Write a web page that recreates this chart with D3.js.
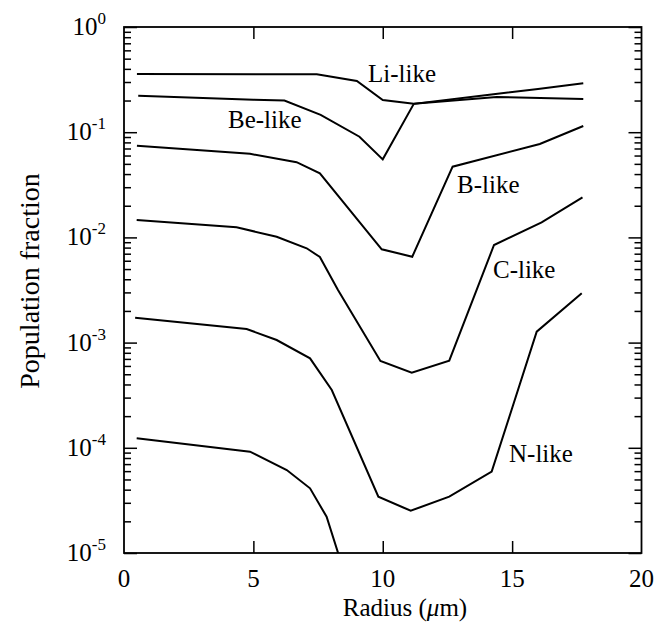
<!DOCTYPE html>
<html>
<head>
<meta charset="utf-8">
<script src="https://cdn.jsdelivr.net/npm/d3@7"></script>
<style>
body { margin: 0; background: #fff; }
text { font-family: "Liberation Serif", "Times New Roman", serif; fill: #000; }
</style>
</head>
<body>
<svg id="viz" width="663" height="629"></svg>
<script>
// radius (um) and population fraction
var liR = [0.5, 7.45, 9.0, 10.0, 11.2, 14.4, 17.75],
	liF = [0.357, 0.355, 0.307, 0.202, 0.186, 0.216, 0.207];
var beR = [0.55, 5.0, 6.2, 7.6, 9.1, 10.0, 11.2, 14.2, 16.0, 17.75],
	beF = [0.222, 0.204, 0.200, 0.146, 0.0906, 0.0552, 0.186, 0.228, 0.258, 0.292];
var bR = [0.5, 4.87, 6.67, 7.57, 9.96, 11.14, 12.7, 16.07, 17.75],
	bF = [0.0744, 0.0623, 0.0519, 0.0407, 0.00771, 0.00655, 0.047, 0.0773, 0.1146];
var cR = [0.49, 4.35, 5.9, 7.06, 7.57, 8.27, 9.91, 11.12, 12.57, 14.3, 16.14, 17.72],
	cF = [0.01464, 0.01247, 0.01015, 0.00788, 0.00651, 0.00316, 0.000668, 0.000517, 0.000673, 0.00847, 0.0139, 0.024];
var nR = [0.43, 4.74, 5.9, 7.19, 8.03, 9.83, 11.08, 12.57, 14.21, 15.95, 17.69],
	nF = [1.725e-3, 1.347e-3, 1.058e-3, 7.09e-4, 3.54e-4, 3.43e-5, 2.52e-5, 3.43e-5, 5.93e-5, 1.27e-3, 2.94e-3];
var oR = [0.49, 4.87, 6.29, 7.19, 7.83, 8.28, 8.4],
	oF = [1.231e-4, 9.18e-5, 6.15e-5, 4.12e-5, 2.21e-5, 9.9e-6, 8.5e-6];

var curveLabels = ['Li-like', 'Be-like', 'B-like', 'C-like', 'N-like'],
	labelR = [9.43, 4.02, 12.87, 14.26, 14.88],
	labelF = [0.30, 0.1096, 0.0264, 0.00411, 7.33e-5];

var xTicks = [0, 5, 10, 15, 20],
	yDecades = [0, -1, -2, -3, -4, -5];

var plotL = 124, plotT = 27, plotR = 641.5, plotB = 553;

var viz = d3.select('#viz');

var x = d3.scaleLinear().domain([0, 20]).range([plotL, plotR]);
var y = d3.scaleLog().domain([1e-5, 1]).range([plotB, plotT]);

viz.append('clipPath').attr('id', 'plotclip')
	.append('rect')
		.attr('x', plotL).attr('y', plotT)
		.attr('width', plotR - plotL).attr('height', plotB - plotT);

// ticks: decades long, 2..9 short, all pointing in
var allY = y.ticks();
var majorY = allY.filter(function(d) { return Math.abs(Math.log10(d) - Math.round(Math.log10(d))) < 1e-9; });
var minorY = allY.filter(function(d) { return majorY.indexOf(d) < 0; });

function yAxis(gen, vals, size, px) {
	var g = viz.append('g').attr('transform', 'translate(' + px + ',0)')
		.call(gen(y).tickValues(vals).tickSize(size).tickSizeOuter(0).tickFormat(''));
	g.select('.domain').remove();
	g.selectAll('line').attr('stroke', '#000').attr('stroke-width', 1.5);
}
yAxis(d3.axisLeft, majorY, -13, plotL);
yAxis(d3.axisLeft, minorY, -7, plotL);
yAxis(d3.axisRight, majorY, -13, plotR);
yAxis(d3.axisRight, minorY, -7, plotR);

function xAxis(gen, py) {
	var g = viz.append('g').attr('transform', 'translate(0,' + py + ')')
		.call(gen(x).tickValues([5, 10, 15]).tickSize(-12).tickSizeOuter(0).tickFormat(''));
	g.select('.domain').remove();
	g.selectAll('line').attr('stroke', '#000').attr('stroke-width', 1.5);
}
xAxis(d3.axisBottom, plotB);
xAxis(d3.axisTop, plotT);

viz.append('rect')
	.attr('x', plotL).attr('y', plotT)
	.attr('width', plotR - plotL).attr('height', plotB - plotT)
	.attr('fill', 'none').attr('stroke', '#000').attr('stroke-width', 1.8);

// tick labels
viz.selectAll('.xlab').data(xTicks).enter().append('text')
	.attr('class', 'xlab')
	.attr('x', function(d) { return x(d); })
	.attr('y', plotB + 34)
	.attr('text-anchor', 'middle')
	.attr('font-size', 25)
	.text(function(d) { return d; });

var ylab = viz.selectAll('.ylab').data(yDecades).enter().append('text')
	.attr('class', 'ylab')
	.attr('x', 106)
	.attr('y', function(d) { return y(Math.pow(10, d)) + 8; })
	.attr('text-anchor', 'end')
	.attr('font-size', 25);
ylab.append('tspan').text('10');
ylab.append('tspan').attr('dy', -11).attr('font-size', 17)
	.text(function(d) { return d; });

// axis titles
viz.append('text')
	.attr('x', 405).attr('y', 616)
	.attr('text-anchor', 'middle').attr('font-size', 25)
	.html('Radius (<tspan font-style="italic">\u03bc</tspan>m)');

viz.append('text')
	.attr('transform', 'translate(39,281) rotate(-90)')
	.attr('text-anchor', 'middle').attr('font-size', 28)
	.text('Population fraction');

// curves
var line = d3.line()
	.x(function(d) { return x(d[0]); })
	.y(function(d) { return y(d[1]); });

var series = [[liR, liF], [beR, beF], [bR, bF], [cR, cF], [nR, nF], [oR, oF]];
series.forEach(function(s) {
	viz.append('path')
		.datum(d3.zip(s[0], s[1]))
		.attr('clip-path', 'url(#plotclip)')
		.attr('d', line)
		.attr('fill', 'none')
		.attr('stroke', '#000')
		.attr('stroke-width', 2);
});

viz.selectAll('.clab').data(curveLabels).enter().append('text')
	.attr('class', 'clab')
	.attr('x', function(d, i) { return x(labelR[i]); })
	.attr('y', function(d, i) { return y(labelF[i]); })
	.attr('font-size', 25)
	.text(function(d) { return d; });
</script>
</body>
</html>
